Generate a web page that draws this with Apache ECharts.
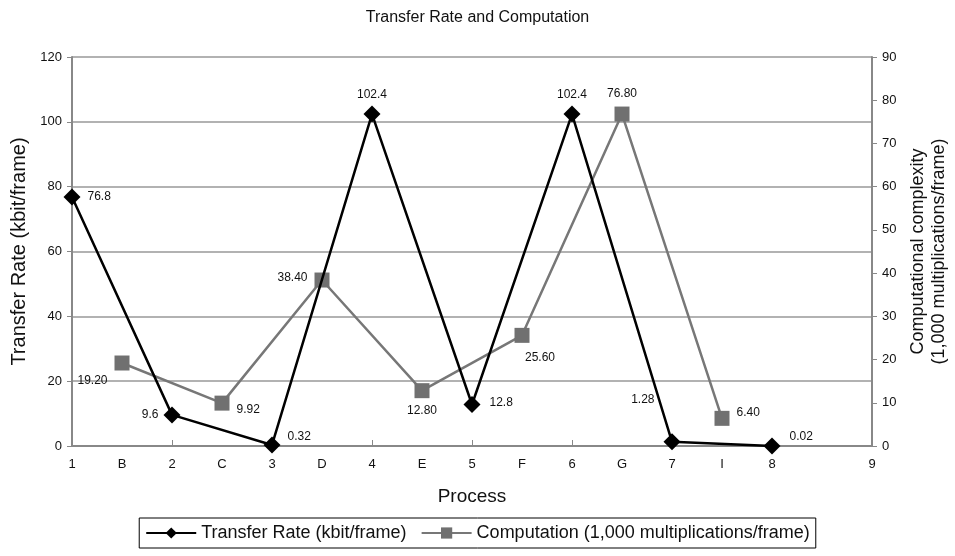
<!DOCTYPE html>
<html>
<head>
<meta charset="utf-8">
<script src="https://cdn.jsdelivr.net/npm/echarts@6/dist/echarts.min.js"></script>
<style>html,body{margin:0;padding:0;background:#fff}#c{width:955px;height:556px}</style>
</head>
<body>
<div id="c"></div>
<script>
var categories = ['1','B','2','C','3','D','4','E','5','F','6','G','7','I','8','','9'];
var transferRate = [76.8, null, 9.6, null, 0.32, null, 102.4, null, 12.8, null, 102.4, null, 1.28, null, 0.02, null, null];
var computation = [null, 19.2, null, 9.92, null, 38.4, null, 12.8, null, 25.6, null, 76.8, null, 6.4, null, null, null];
var leftTicks = [0, 120, 20];
var rightTicks = [0, 90, 10];

var FONT = 'Liberation Sans, Arial, sans-serif';
var trLabelPos = {0:['right',[2,0]],2:['left',[0,0]],4:['right',[2,-8]],6:['top',[0,0]],8:['right',[4,-2]],10:['top',[0,0]],12:['left',[-4,-42]],14:['right',[4,-9]]};
var cpLabelPos = {1:['left',[-2,18]],3:['right',[2,7]],5:['left',[-2,-2]],7:['bottom',[0,2]],9:['bottom',[18,4]],11:['top',[0,-2]],13:['right',[2,-6]]};

function build(arr, posMap, fmt) {
  return arr.map(function(v, i) {
    if (v === null) return null;
    var p = posMap[i];
    return {value: v, label: {show: true, position: p[0], offset: p[1], formatter: fmt(v)}};
  });
}

var chart = echarts.init(document.getElementById('c'));
chart.setOption({
  backgroundColor: '#fff',
  animation: false,
  title: {text: 'Transfer Rate and Computation', left: 'center', top: 5,
    textStyle: {fontFamily: FONT, fontSize: 16, fontWeight: 'normal', color: '#111'}},
  grid: {left: 72, right: 83, top: 57, bottom: 110, outerBoundsMode: 'none'},
  legend: {bottom: 8, left: 'center', borderColor: '#000', borderWidth: 1, borderRadius: 0,
    padding: [6, 6], itemWidth: 50, itemHeight: 14, itemGap: 14,
    textStyle: {fontFamily: FONT, fontSize: 18, color: '#111'},
    data: ['Transfer Rate (kbit/frame)', 'Computation (1,000 multiplications/frame)']},
  xAxis: {type: 'category', data: categories, boundaryGap: false,
    name: 'Process', nameLocation: 'middle', nameGap: 41,
    nameTextStyle: {fontFamily: FONT, fontSize: 19, color: '#111'},
    axisLine: {lineStyle: {color: '#888', width: 2}},
    axisTick: {show: true, interval: function(i){return i % 2 === 0;}, length: 6, inside: true, lineStyle: {color: '#888'}},
    axisLabel: {interval: 0, fontFamily: FONT, fontSize: 13, color: '#111', margin: 12},
    splitLine: {show: false}},
  yAxis: [
    {type: 'value', min: leftTicks[0], max: leftTicks[1], interval: leftTicks[2],
      name: 'Transfer Rate (kbit/frame)', nameLocation: 'middle', nameGap: 42,
      nameTextStyle: {fontFamily: FONT, fontSize: 20, color: '#111'},
      axisLine: {show: true, lineStyle: {color: '#888', width: 2}},
      axisTick: {show: true, length: 5, lineStyle: {color: '#888'}},
      axisLabel: {fontFamily: FONT, fontSize: 13, color: '#111', margin: 10},
      splitLine: {show: true, lineStyle: {color: '#999', width: 1.5}}},
    {type: 'value', min: rightTicks[0], max: rightTicks[1], interval: rightTicks[2],
      name: 'Computational complexity\n(1,000 multiplications/frame)', nameLocation: 'middle', nameGap: 36,
      nameRotate: 90,
      nameTextStyle: {fontFamily: FONT, fontSize: 18, color: '#111', lineHeight: 21},
      axisLine: {show: true, lineStyle: {color: '#888', width: 2}},
      axisTick: {show: true, length: 5, lineStyle: {color: '#888'}},
      axisLabel: {fontFamily: FONT, fontSize: 13, color: '#111', margin: 10},
      splitLine: {show: false}}
  ],
  series: [
    {name: 'Transfer Rate (kbit/frame)', type: 'line', yAxisIndex: 0, connectNulls: true,
      data: build(transferRate, trLabelPos, function(v){return String(v);}),
      symbol: 'diamond', symbolSize: 17,
      lineStyle: {color: '#000', width: 2.5}, itemStyle: {color: '#000'},
      label: {fontFamily: FONT, fontSize: 12, color: '#111'}, z: 3},
    {name: 'Computation (1,000 multiplications/frame)', type: 'line', yAxisIndex: 1, connectNulls: true,
      data: build(computation, cpLabelPos, function(v){return v.toFixed(2);}),
      symbol: 'rect', symbolSize: 15,
      lineStyle: {color: '#777', width: 2.5}, itemStyle: {color: '#707070'},
      label: {fontFamily: FONT, fontSize: 12, color: '#111'}, z: 2}
  ]
});
</script>
</body>
</html>
